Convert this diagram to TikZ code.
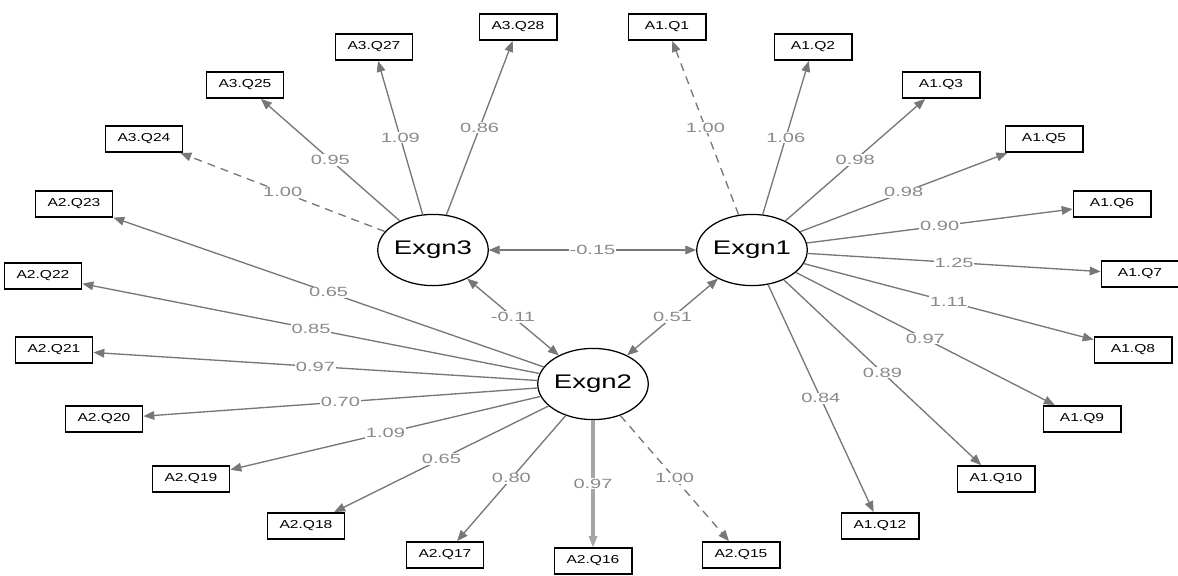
\documentclass[tikz,border=0pt]{standalone}
\usepackage{fontspec}
\setmainfont{Liberation Sans}
\newfontfamily\itemfont[FakeStretch=1.35]{Liberation Sans}
\newfontfamily\latentfont[FakeStretch=1.4]{Liberation Sans}
\newfontfamily\loadfont[FakeStretch=1.5]{Liberation Sans}
\usepackage{tikz}
\usetikzlibrary{arrows.meta, shapes.geometric}
\usepackage{xcolor}
\definecolor{pathgray}{HTML}{777777}
\definecolor{labgray}{HTML}{8A8A8A}
\definecolor{lightpath}{HTML}{A5A5A5}

\begin{document}
\begin{tikzpicture}[
  x=0.025cm, y=-0.025cm,
  item/.style = {draw, line width=1.4pt, minimum width=1.925cm, minimum height=0.65cm, inner sep=0pt, font=\itemfont\fontsize{8.2}{9}\selectfont},
  latent/.style = {draw, ellipse, line width=0.9pt, minimum width=2.7cm, minimum height=1.78cm, inner sep=0pt, font=\latentfont\fontsize{14}{16}\selectfont},
  load/.style = {pathgray, line width=0.95pt, -{Triangle[length=0.27cm, width=0.22cm, line width=0.5pt]}},
  cov/.style = {load, {Triangle[length=0.27cm, width=0.22cm, line width=0.5pt]}-{Triangle[length=0.27cm, width=0.22cm, line width=0.5pt]}},
  fixed/.style = {load, dash pattern=on 0.2cm off 0.15cm},
  heavy/.style = {load, lightpath, line width=2.2pt},
  lab/.style = {midway, fill=white, inner sep=0.6pt, text=labgray, font=\loadfont\fontsize{9.5}{10}\selectfont}
]
  \useasboundingbox (0,0) rectangle (1178,575);

  % ======================================================
  % Latent factors
  % ======================================================
  \node[latent] (exgn3) at (433,250) {Exgn3};
  \node[latent] (exgn1) at (752,250) {Exgn1};
  \node[latent] (exgn2) at (593,384) {Exgn2};

  % ======================================================
  % Items of Exgn3
  % ======================================================
  \node[item] (a3q24) at (144,139) {A3.Q24};
  \node[item] (a3q25) at (245,85) {A3.Q25};
  \node[item] (a3q27) at (374,47) {A3.Q27};
  \node[item] (a3q28) at (518,27) {A3.Q28};

  % ======================================================
  % Items of Exgn1
  % ======================================================
  \node[item] (a1q1) at (667,27) {A1.Q1};
  \node[item] (a1q2) at (813,47) {A1.Q2};
  \node[item] (a1q3) at (941,85) {A1.Q3};
  \node[item] (a1q5) at (1044,139) {A1.Q5};
  \node[item] (a1q6) at (1112,204) {A1.Q6};
  \node[item] (a1q7) at (1140,274) {A1.Q7};
  \node[item] (a1q8) at (1133,350) {A1.Q8};
  \node[item] (a1q9) at (1082,419) {A1.Q9};
  \node[item] (a1q10) at (996,479) {A1.Q10};
  \node[item] (a1q12) at (880,526) {A1.Q12};

  % ======================================================
  % Items of Exgn2
  % ======================================================
  \node[item] (a2q23) at (74,204) {A2.Q23};
  \node[item] (a2q22) at (43,276) {A2.Q22};
  \node[item] (a2q21) at (54,350) {A2.Q21};
  \node[item] (a2q20) at (104,419) {A2.Q20};
  \node[item] (a2q19) at (191,479) {A2.Q19};
  \node[item] (a2q18) at (306,526) {A2.Q18};
  \node[item] (a2q17) at (445,555) {A2.Q17};
  \node[item] (a2q16) at (593,561) {A2.Q16};
  \node[item] (a2q15) at (741,555) {A2.Q15};

  % Exgn3 loadings
  \draw[fixed] (exgn3) -- node[lab] {1.00} (a3q24);
  \draw[load] (exgn3) -- node[lab] {0.95} (a3q25);
  \draw[load] (exgn3) -- node[lab] {1.09} (a3q27);
  \draw[load] (exgn3) -- node[lab] {0.86} (a3q28);

  % Exgn1 loadings
  \draw[fixed] (exgn1) -- node[lab] {1.00} (a1q1);
  \draw[load] (exgn1) -- node[lab] {1.06} (a1q2);
  \draw[load] (exgn1) -- node[lab] {0.98} (a1q3);
  \draw[load] (exgn1) -- node[lab] {0.98} (a1q5);
  \draw[load] (exgn1) -- node[lab] {0.90} (a1q6);
  \draw[load] (exgn1) -- node[lab] {1.25} (a1q7);
  \draw[load] (exgn1) -- node[lab] {1.11} (a1q8);
  \draw[load] (exgn1) -- node[lab] {0.97} (a1q9);
  \draw[load] (exgn1) -- node[lab] {0.89} (a1q10);
  \draw[load] (exgn1) -- node[lab] {0.84} (a1q12);

  % Exgn2 loadings
  \draw[load] (exgn2) -- node[lab] {0.65} (a2q23);
  \draw[load] (exgn2) -- node[lab] {0.85} (a2q22);
  \draw[load] (exgn2) -- node[lab] {0.97} (a2q21);
  \draw[load] (exgn2) -- node[lab] {0.70} (a2q20);
  \draw[load] (exgn2) -- node[lab] {1.09} (a2q19);
  \draw[load] (exgn2) -- node[lab] {0.65} (a2q18);
  \draw[load] (exgn2) -- node[lab] {0.80} (a2q17);
  \draw[heavy] (exgn2) -- node[lab] {0.97} (a2q16);
  \draw[fixed] (exgn2) -- node[lab] {1.00} (a2q15);

  % covariances between factors
  \draw[cov] (exgn3) -- node[lab] {-0.15} (exgn1);
  \draw[cov] (exgn3) -- node[lab] {-0.11} (exgn2);
  \draw[cov] (exgn2) -- node[lab] {0.51} (exgn1);

\end{tikzpicture}
\end{document}
